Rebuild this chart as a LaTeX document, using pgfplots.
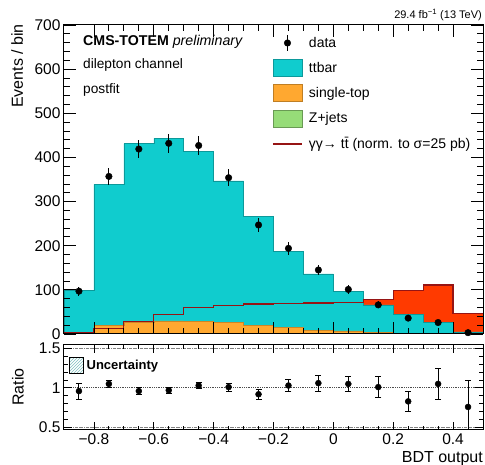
\documentclass[border=0pt]{standalone}
\usepackage{fontspec}
\setmainfont{Liberation Sans}
\usepackage{pgfplots}
\pgfplotsset{compat=1.18}
\usetikzlibrary{patterns}
\definecolor{ttcol}{RGB}{16,204,206}
\definecolor{stcol}{RGB}{255,168,48}
\definecolor{zjcol}{RGB}{150,220,120}
\definecolor{sigfill}{RGB}{255,58,0}
\definecolor{sigline}{RGB}{150,20,20}
\newcommand{\tl}{\fontsize{15.5}{16}\selectfont}
\begin{document}
\begin{tikzpicture}
\useasboundingbox (0,0) rectangle (485pt,465pt);
\begin{axis}[at={(64pt,131pt)}, anchor=south west, scale only axis,
  width=419pt, height=309pt,
  xmin=-0.9, xmax=0.5, ymin=0, ymax=700,
  xtick={-0.8,-0.6,-0.4,-0.2,0,0.2,0.4}, xticklabels={}, minor x tick num=3,
  ytick={0,100,...,700}, minor y tick num=4,
  tick align=inside, xtick pos=both, ytick pos=both,
  xticklabel pos=lower, yticklabel pos=left,
  major tick length=12pt, minor tick length=6pt,
  tick style={black, line width=0.8pt},
  axis line style={line width=1pt},
  yticklabel style={font=\tl},
  /pgf/number format/assume math mode=true,
  axis on top, clip mode=individual,
  legend cell align=left,
  legend style={at={(0.4964,0.9693)}, anchor=north west, draw=none, fill=none,
    inner sep=0pt, outer sep=0pt, row sep=7.7pt, column sep=6pt,
    font=\fontsize{14}{14}\selectfont, nodes={inner sep=0pt}},
]
\addlegendimage{legend image code/.code={\path[draw=none,fill=none] (0pt,-8.5pt) rectangle (29pt,8.5pt); \draw[black, line width=1pt] (14.5pt,-8pt)--(14.5pt,8pt); \fill[black] (14.5pt,0pt) circle (3.3pt);}}
\addlegendentry{data}
\addlegendimage{legend image code/.code={\draw[ttcol!75!black, fill=ttcol, line width=0.6pt] (0pt,-8.5pt) rectangle (29pt,8.5pt);}}
\addlegendentry{ttbar}
\addlegendimage{legend image code/.code={\draw[stcol!75!black, fill=stcol, line width=0.6pt] (0pt,-8.5pt) rectangle (29pt,8.5pt);}}
\addlegendentry{single-top}
\addlegendimage{legend image code/.code={\draw[zjcol!70!black, fill=zjcol, line width=0.6pt] (0pt,-8.5pt) rectangle (29pt,8.5pt);}}
\addlegendentry{Z+jets}
\addlegendimage{legend image code/.code={\path[draw=none,fill=none] (0pt,-8.5pt) rectangle (29pt,8.5pt); \draw[draw=sigline, line width=2pt] (0pt,0pt)--(29pt,0pt);}}
\addlegendentry{γγ→ t\={t} (norm. to σ=25 pb)}

% signal fill
\addplot[const plot, fill=sigfill, draw=none] coordinates {
(-0.9,3) (-0.8,13) (-0.7,28) (-0.6,45) (-0.5,60) (-0.4,65) (-0.3,68) (-0.2,69) (-0.1,70) (0.0,72) (0.1,79) (0.2,98) (0.3,111) (0.4,47) (0.5,47)} \closedcycle;
% ttbar (stack total)
\addplot[const plot, fill=ttcol, draw=ttcol!75!black, line width=0.5pt] coordinates {
(-0.9,98) (-0.8,339) (-0.7,431) (-0.6,443) (-0.5,413) (-0.4,347) (-0.3,266) (-0.2,188) (-0.1,136) (0.0,96) (0.1,66) (0.2,45) (0.3,26) (0.4,5) (0.5,5)} \closedcycle;
% single top
\addplot[const plot, fill=stcol, draw=stcol!80!black, line width=0.5pt] coordinates {
(-0.9,4) (-0.8,20) (-0.7,26) (-0.6,30) (-0.5,28) (-0.4,26) (-0.3,20) (-0.2,15) (-0.1,9) (0.0,7) (0.1,3) (0.2,2) (0.3,1) (0.4,0.5) (0.5,0.5)} \closedcycle;
% signal line
\addplot[const plot, draw=sigline, line width=1.2pt] coordinates {
(-0.9,3) (-0.8,13) (-0.7,28) (-0.6,45) (-0.5,60) (-0.4,65) (-0.3,68) (-0.2,69) (-0.1,70) (0.0,72) (0.1,79) (0.2,98) (0.3,111) (0.4,47) (0.5,47)};
% data
\addplot[only marks, mark=*, mark size=3.3pt, black,
  error bars/.cd, y dir=both, y explicit, error mark=none,
  error bar style={line width=1pt, black}] coordinates {
(-0.85,97) +- (0,10)
(-0.75,357) +- (0,19)
(-0.65,419) +- (0,20)
(-0.55,432) +- (0,21)
(-0.45,427) +- (0,21)
(-0.35,354) +- (0,19)
(-0.25,247) +- (0,16)
(-0.15,194) +- (0,14)
(-0.05,145) +- (0,12)
(0.05,101) +- (0,10)
(0.15,66) +- (0,8)
(0.25,36) +- (0,6)
(0.35,26) +- (0,5)
(0.45,3) +- (0,2)};

\node[anchor=west, inner sep=0pt, font=\fontsize{14.2}{15}\selectfont] at (rel axis cs:0.0453,0.945) {\textbf{CMS-TOTEM} \textit{preliminary}};
\node[anchor=west, inner sep=0pt, font=\fontsize{13.7}{14}\selectfont] at (rel axis cs:0.0453,0.8706) {dilepton channel};
\node[anchor=west, inner sep=0pt, font=\fontsize{13.7}{14}\selectfont] at (rel axis cs:0.0453,0.7896) {postfit};
\node[anchor=east, inner sep=0pt, font=\fontsize{11}{12}\selectfont] at (rel axis cs:0.9976,1.032) {29.4 fb\textsuperscript{−1} (13 TeV)};
\node[rotate=90, inner sep=0pt, font=\fontsize{16}{16}\selectfont] at (rel axis cs:-0.112,0.867) {Events / bin};
\end{axis}

\begin{axis}[at={(64pt,35pt)}, anchor=south west, scale only axis,
  width=419pt, height=85pt,
  xmin=-0.9, xmax=0.5, ymin=0.47, ymax=1.54,
  xtick={-0.8,-0.6,-0.4,-0.2,0,0.2,0.4},
  xticklabels={−0.8,−0.6,−0.4,−0.2,0,0.2,0.4}, minor x tick num=3,
  ytick={0.5,1,1.5}, yticklabels={0.5,1,1.5}, minor y tick num=4,
  tick align=inside, xtick pos=both, ytick pos=both,
  xticklabel pos=lower, yticklabel pos=left,
  major tick length=8pt, minor tick length=4pt,
  tick style={black, line width=0.8pt},
  axis line style={line width=1pt},
  ticklabel style={font=\tl},
  xticklabel style={yshift=-0.5pt},
  axis on top, clip mode=individual,
  legend cell align=left,
  legend style={at={(0.012,0.859)}, anchor=north west, draw=none, fill=none,
    inner sep=0pt, outer sep=0pt, column sep=3pt,
    font=\fontsize{13}{13}\selectfont\bfseries, nodes={inner sep=0pt}},
]
\addlegendimage{legend image code/.code={\draw[black, line width=0.6pt, pattern=north east lines, pattern color=teal!50] (0pt,-8pt) rectangle (14pt,8pt);}}
\addlegendentry{Uncertainty}
\addplot[densely dashdotted, gray, line width=0.6pt] coordinates {(-0.9,1.5) (0.5,1.5)};
\addplot[densely dashdotted, gray, line width=0.6pt] coordinates {(-0.9,0.5) (0.5,0.5)};
\addplot[densely dotted, gray!60!black, line width=0.8pt] coordinates {(-0.9,1) (0.5,1)};
\addplot[only marks, mark=*, mark size=3pt, black,
  error bars/.cd, y dir=both, y explicit, error mark=-,
  error mark options={black, mark size=3pt, line width=0.8pt, rotate=90},
  error bar style={line width=1pt, black}]
  table[x=x, y=y, y error plus=ep, y error minus=em] {
x y ep em
-0.85 0.96 0.10 0.10
-0.75 1.05 0.05 0.05
-0.65 0.96 0.04 0.04
-0.55 0.97 0.04 0.04
-0.45 1.03 0.04 0.04
-0.35 1.01 0.05 0.05
-0.25 0.92 0.06 0.06
-0.15 1.03 0.08 0.08
-0.05 1.06 0.10 0.10
0.05 1.05 0.10 0.10
0.15 1.01 0.13 0.13
0.25 0.83 0.13 0.13
0.35 1.05 0.20 0.20
0.45 0.76 0.33 0.50
};
\node[rotate=90, inner sep=0pt, font=\fontsize{16}{16}\selectfont] at (rel axis cs:-0.1098,0.506) {Ratio};
\node[anchor=east, inner sep=0pt, font=\fontsize{16}{16}\selectfont] at (rel axis cs:1,-0.335) {BDT output};
\end{axis}
\end{tikzpicture}
\end{document}
